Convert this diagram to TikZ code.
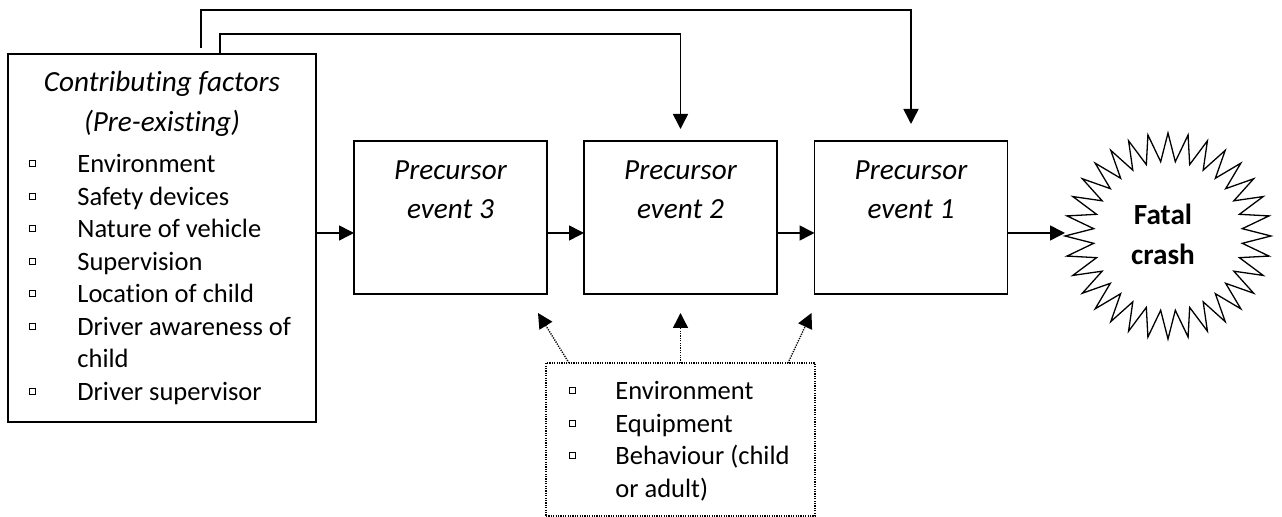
\documentclass[tikz,border=0pt]{standalone}
\usepackage{fontspec}
\setmainfont{Carlito}[Ligatures={NoCommon}]
\usetikzlibrary{arrows.meta, positioning, shapes.geometric}

\tikzset{
  flow/.style={-{Triangle[length=7.5pt, width=7.5pt]}, line width=0.8pt},
  hint/.style={flow, line width=0.7pt, dash pattern=on 0.6pt off 0.6pt},
  box/.style={draw, line width=0.8pt, inner sep=0pt, outer sep=0pt},
  eventbox/.style={box, minimum width=96.5pt, minimum height=76.5pt},
  txt/.style={inner sep=0pt, anchor=base},
  head/.style={txt, font=\fontsize{14.6}{17.5}\selectfont\itshape},
  entry/.style={inner sep=0pt, anchor=base west},
  bullet/.style={line width=0.5pt}
}

\begin{document}
\begin{tikzpicture}[x=0.5pt, y=-0.5pt, font=\fontsize{13.25}{16.25}\selectfont]
    \useasboundingbox (0,0) rectangle (1282,517);
    \coordinate (row) at (0,233);

    \node[box, minimum width=154pt, minimum height=184pt] (factors) at (162,238) {};
    \node[head] (cftitle) at (162,92) {Contributing factors};
    \node[head] (cfsub) at (162,132) {(Pre-existing)};
    \foreach \entry [count=\i from 0] in {Environment, Safety devices, Nature of vehicle, Supervision,
        Location of child, Driver awareness of, child, Driver supervisor}
      \node[entry] (cf\i) at (77,{173+32.5*\i}) {\entry};
    \foreach \i in {0,...,5,7}
      \draw[bullet] (cf\i.base west) ++(-48,-12) rectangle ++(6,6);

    \foreach \n/\x in {3/450.5, 2/680.5, 1/911} {
      \node[eventbox] (ev\n) at (\x,217.5) {};
      \node[head] (ev\n-a) at ([yshift=-19.5pt]ev\n.north) {Precursor};
      \node[head] (ev\n-b) at ([yshift=-39pt]ev\n.north) {event \n};
    }

    \node[star, star points=32, star point ratio=1.38, draw, line width=0.65pt,
      minimum size=103pt, inner sep=0pt, outer sep=0pt] (crash) at (1168,236) {};
    \node[txt, font=\fontsize{14.6}{17.5}\selectfont\bfseries] (crash-a) at (1163,225) {Fatal};
    \node[txt, font=\fontsize{14.6}{17.5}\selectfont\bfseries] (crash-b) at (1163,265) {crash};

    \node[box, line width=0.7pt, dash pattern=on 0.6pt off 0.6pt,
      minimum width=134.5pt, minimum height=76.5pt] (influences) at (680.5,439.5) {};
    \foreach \entry [count=\i from 0] in {Environment, Equipment, Behaviour (child, or adult)}
      \node[entry] (inf\i) at (615,{400+32.5*\i}) {\entry};
    \foreach \i in {0,1,2}
      \draw[bullet] (inf\i.base west) ++(-46,-12) rectangle ++(6,6);

    \draw[flow] (factors.east |- row) -- (ev3.west |- row);
    \draw[flow] (ev3.east |- row) -- (ev2.west |- row);
    \draw[flow] (ev2.east |- row) -- (ev1.west |- row);
    \draw[flow] (ev1.east |- row) -- (crash.west |- row);

    \draw[flow] ([xshift=29pt]factors.north) -- ++(0,-20) -| ([yshift=6pt]ev2.north);
    \draw[flow] ([xshift=19.5pt, yshift=3pt]factors.north) -- ++(0,-38) -| ([yshift=8.5pt]ev1.north);

    \draw[hint] ([xshift=11.5pt]influences.north west) -- ([shift={(-9,19)}]ev3.south east);
    \draw[hint] (influences.north) -- ([yshift=-9.5pt]ev2.south);
    \draw[hint] ([xshift=-13.5pt]influences.north east) -- ([shift={(-3,19)}]ev1.south west);
\end{tikzpicture}
\end{document}
